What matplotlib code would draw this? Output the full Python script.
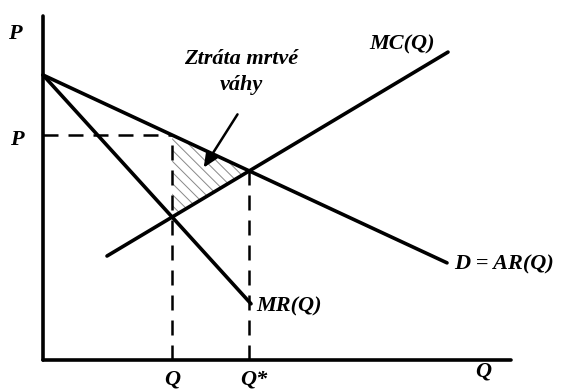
import numpy as np
import matplotlib.pyplot as plt

# line parameters (P = a + b*Q)
p_max = 7.125          # demand / MR intercept
d_slope = -0.465       # D = AR(Q)
mr_slope = -1.10       # MR(Q)
mc_a, mc_b = 1.643, 0.598   # MC(Q)

d_q_end = 10.1
mr_q_end = 5.2
mc_q = [1.6, 10.125]

q_axis_max = 11.7
p_axis_max = 8.6

# intersections
q_m = (p_max - mc_a) / (mc_b - mr_slope)
q_star = (p_max - mc_a) / (mc_b - d_slope)
p_m = p_max + d_slope * q_m
p_star = p_max + d_slope * q_star
mc_at_qm = mc_a + mc_b * q_m

plt.rcParams['font.family'] = ['Liberation Serif', 'DejaVu Serif']

fig = plt.figure(figsize=(5.66, 3.91), dpi=100)
ax = fig.add_axes([0, 0, 1, 1])
ax.set_xlim(-1.075, 13.075)
ax.set_ylim(-0.775, 9.0)
ax.axis('off')

k = dict(color='black', lw=2.6, solid_capstyle='round')
# axes
ax.plot([0, 0], [0, p_axis_max], **k)
ax.plot([0, q_axis_max], [0, 0], **k)

# curves
qd = np.array([0, d_q_end])
ax.plot(qd, p_max + d_slope * qd, **k)
qr = np.array([0, mr_q_end])
ax.plot(qr, p_max + mr_slope * qr, **k)
qc = np.array(mc_q)
ax.plot(qc, mc_a + mc_b * qc, **k)

# dashed guides
dk = dict(color='black', lw=1.8, dashes=(6, 4))
ax.plot([0, q_m], [p_m, p_m], **dk)
ax.plot([q_m, q_m], [0, p_m], **dk)
ax.plot([q_star, q_star], [0, p_star], **dk)

# deadweight loss triangle
plt.rcParams['hatch.linewidth'] = 0.7
ax.fill([q_m, q_star, q_m], [p_m, p_star, mc_at_qm], facecolor='none',
        edgecolor='#888888', hatch='\\\\\\', lw=0)

# arrow
ax.annotate('', xy=(3.98, 4.75), xytext=(4.9, 6.2),
            arrowprops=dict(arrowstyle='-|>,head_length=0.9,head_width=0.4',
                            color='black', lw=1.8))

tk = dict(fontsize=16, fontweight='bold', fontstyle='italic')
ax.text(-0.7, 8.15, 'P', ha='center', va='center', **tk)
ax.text(-0.65, 5.5, 'P', ha='center', va='center', **tk)
ax.text(q_m, -0.5, 'Q', ha='center', va='center', **tk)
ax.text(q_star + 0.12, -0.5, 'Q*', ha='center', va='center', **tk)
ax.text(11.0, -0.3, 'Q', ha='center', va='center', **tk)
ax.text(8.98, 7.9, 'MC(Q)', ha='center', va='center', **tk)
ax.text(10.28, 2.38, 'D = AR(Q)', ha='left', va='center', **tk)
ax.text(5.32, 1.35, 'MR(Q)', ha='left', va='center', **tk)
ax.text(4.95, 7.2, 'Ztráta mrtvé\nváhy', ha='center', va='center',
        linespacing=1.45, **tk)

plt.savefig('out.png', dpi=100)
